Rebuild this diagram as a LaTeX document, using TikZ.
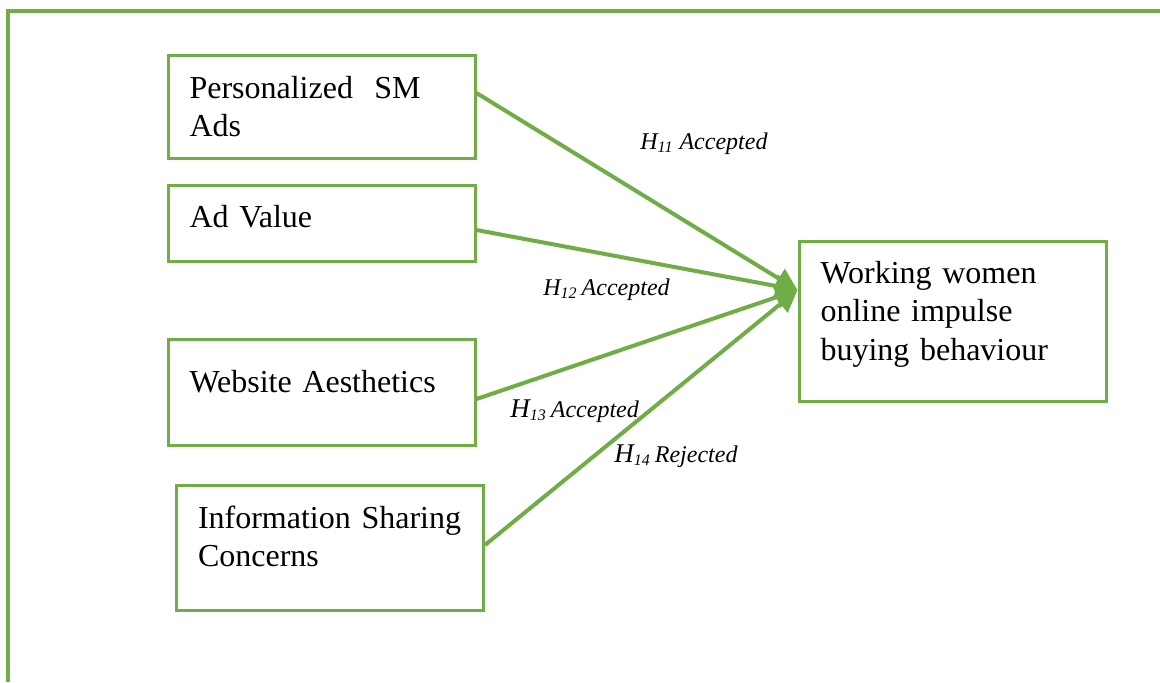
\documentclass[tikz,border=0pt]{standalone}
\usepackage{fontspec}
\setmainfont{Liberation Serif}
\usetikzlibrary{arrows.meta}
\definecolor{model-green}{HTML}{70AD47}
\newlength{\basisa}
\setlength{\basisa}{0.5pt}
% extra depth under the last line, lifts the text inside its box
\newcommand{\liftby}[1]{\rule[-#1]{0pt}{0pt}}

\tikzset{
	construct/.style={draw=model-green, line width=1.5pt, minimum width=307\basisa,
		text width=132pt, inner xsep=10.75pt, align=left,
		font=\fontsize{16}{19.25}\selectfont},
	hypothesis/.style={anchor=base west, inner sep=0pt, font=\fontsize{12}{14}\selectfont\itshape},
	link/.style={draw=model-green, line width=2pt, -{Triangle[length=11pt,width=11pt]}}
}

\begin{document}
\begin{tikzpicture}
	\useasboundingbox (0,0) rectangle (1160\basisa,-682\basisa);

	\draw[model-green, line width=1.6pt] (8\basisa,-682\basisa) -- (8\basisa,-11\basisa) -- (1160\basisa,-11\basisa);

	\draw (321.5\basisa,-106.5\basisa)
		node[construct, minimum height=103\basisa]
			(PersonalizedAds) {Personalized\ \ SM\\Ads};

	\draw (321.5\basisa,-223\basisa)
		node[construct, minimum height=76\basisa]
			(AdValue) {Ad Value\liftby{7pt}};

	\draw (321.5\basisa,-392\basisa)
		node[construct, minimum height=106\basisa]
			(Aesthetics) {Website Aesthetics\liftby{11pt}};

	\draw (330\basisa,-547.5\basisa)
		node[construct, minimum height=125\basisa]
			(SharingConcerns) {Information Sharing\\Concerns\liftby{11.5pt}};

	\draw (952.5\basisa,-321\basisa)
		node[construct, minimum height=160\basisa]
			(ImpulseBuying) {Working women\\online impulse\\buying behaviour\liftby{10.5pt}};

	\draw[link] ([yshift=6.75pt]PersonalizedAds.east) -- ([yshift=15.5pt]ImpulseBuying.west);
	\draw[link] ([yshift=-3.5pt]AdValue.east) -- ([yshift=15.5pt]ImpulseBuying.west);
	\draw[link] ([yshift=-3.5pt]Aesthetics.east) -- ([yshift=15.5pt]ImpulseBuying.west);
	\draw[link] ([yshift=1.25pt]SharingConcerns.east) -- ([yshift=15.5pt]ImpulseBuying.west);

	\node[hypothesis] (H11) at (640\basisa,-149\basisa) {H\textsubscript{11} Accepted};
	\node[hypothesis] (H12) at (543\basisa,-295\basisa) {H\textsubscript{12}\,Accepted};
	\node[hypothesis] (H13) at (510\basisa,-417\basisa) {{\fontsize{13.5}{15}\selectfont H}\textsubscript{13}\,Accepted};
	\node[hypothesis] (H14) at (614\basisa,-462\basisa) {{\fontsize{13.5}{15}\selectfont H}\textsubscript{14}\,Rejected};
\end{tikzpicture}
\end{document}
